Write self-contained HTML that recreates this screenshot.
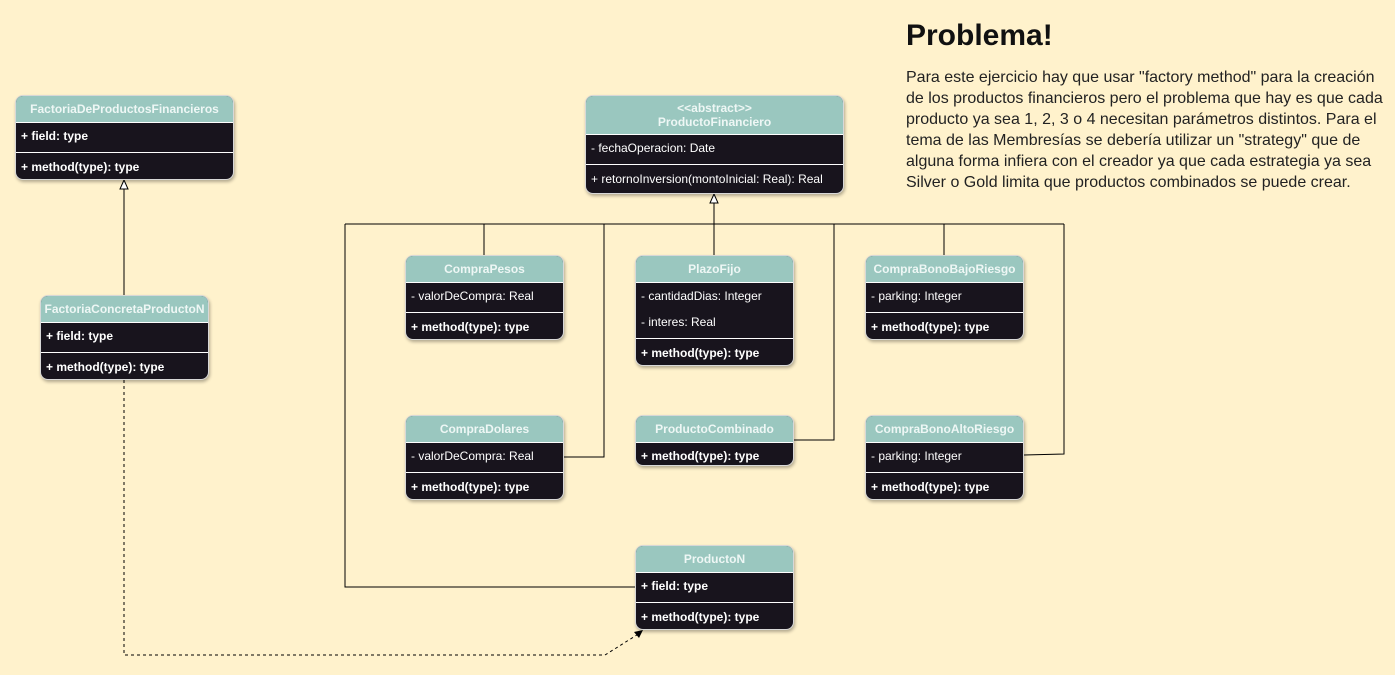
<!DOCTYPE html>
<html><head><meta charset="utf-8"><style>
body{margin:0;width:1395px;height:675px;background:#fff2cc;position:relative;overflow:hidden;font-family:"Liberation Sans",Arial,sans-serif}
.c{position:absolute;background:#18141d;border-radius:8px;box-shadow:1px 2px 3px rgba(0,0,0,.3);color:#fff;font-size:12px;overflow:hidden;border:1px solid #d8d8d8;box-sizing:border-box}
.h{background:#9ac7bf;color:#eef7f5;font-weight:bold;text-align:center;height:26px;line-height:26px;border-bottom:1px solid #fff}
.h2{height:39px;line-height:14px;padding-top:5px;box-sizing:border-box}
.r{height:26px;line-height:26px;padding-left:5px;white-space:nowrap}
.s{border-top:1px solid #fff;margin-top:3px;padding-top:1px}
.b{font-weight:bold}
svg{position:absolute;left:0;top:0}
#t{position:absolute;left:906px;top:19px;font-size:30px;font-weight:bold;color:#111}
#p{position:absolute;left:906px;top:67px;font-size:16px;line-height:21px;color:#222;white-space:nowrap}
</style></head><body>
<svg width="1395" height="675">
<g stroke="#000" stroke-width="1" fill="none">
<path d="M345 224H1064M484 224V255M604 224V457H564M714 202V255M834 224V440H794M944 224V255M1064 224V454L1024 455M345 224V587H635"/>
<path d="M124 295V188"/>
<path d="M124 380V655H605L640 633" stroke-dasharray="3,3"/>
</g>
<path d="M714 194l-4 9h8z" fill="#fff" stroke="#000"/>
<path d="M124 180l-4 9h8z" fill="#fff" stroke="#000"/>
<path d="M643 630l-9 2 5 6z" fill="#000"/>
</svg>

<div class="c" style="left:15px;top:95px;width:219px;height:85px"><div class="h">FactoriaDeProductosFinancieros</div><div class="r b">+ field: type</div><div class="r b s">+ method(type): type</div></div>

<div class="c" style="left:585px;top:95px;width:259px;height:99px"><div class="h h2">&lt;&lt;abstract&gt;&gt;<br>ProductoFinanciero</div><div class="r">- fechaOperacion: Date</div><div class="r s">+ retornoInversion(montoInicial: Real): Real</div></div>

<div class="c" style="left:40px;top:295px;width:169px;height:85px"><div class="h">FactoriaConcretaProductoN</div><div class="r b">+ field: type</div><div class="r b s">+ method(type): type</div></div>

<div class="c" style="left:405px;top:255px;width:159px;height:85px"><div class="h">CompraPesos</div><div class="r">- valorDeCompra: Real</div><div class="r b s">+ method(type): type</div></div>

<div class="c" style="left:635px;top:255px;width:159px;height:111px"><div class="h">PlazoFijo</div><div class="r">- cantidadDias: Integer</div><div class="r">- interes: Real</div><div class="r b s">+ method(type): type</div></div>

<div class="c" style="left:865px;top:255px;width:159px;height:85px"><div class="h">CompraBonoBajoRiesgo</div><div class="r">- parking: Integer</div><div class="r b s">+ method(type): type</div></div>

<div class="c" style="left:405px;top:415px;width:159px;height:85px"><div class="h">CompraDolares</div><div class="r">- valorDeCompra: Real</div><div class="r b s">+ method(type): type</div></div>

<div class="c" style="left:635px;top:415px;width:159px;height:51px"><div class="h">ProductoCombinado</div><div class="r b">+ method(type): type</div></div>

<div class="c" style="left:865px;top:415px;width:159px;height:85px"><div class="h">CompraBonoAltoRiesgo</div><div class="r">- parking: Integer</div><div class="r b s">+ method(type): type</div></div>

<div class="c" style="left:635px;top:545px;width:159px;height:85px"><div class="h">ProductoN</div><div class="r b">+ field: type</div><div class="r b s">+ method(type): type</div></div>

<div id="t">Problema!</div>
<div id="p">Para este ejercicio hay que usar "factory method" para la creación<br>de los productos financieros pero el problema que hay es que cada<br>producto ya sea 1, 2, 3 o 4 necesitan parámetros distintos. Para el<br>tema de las Membresías se debería utilizar un "strategy" que de<br>alguna forma infiera con el creador ya que cada estrategia ya sea<br>Silver o Gold limita que productos combinados se puede crear.</div>
</body></html>
